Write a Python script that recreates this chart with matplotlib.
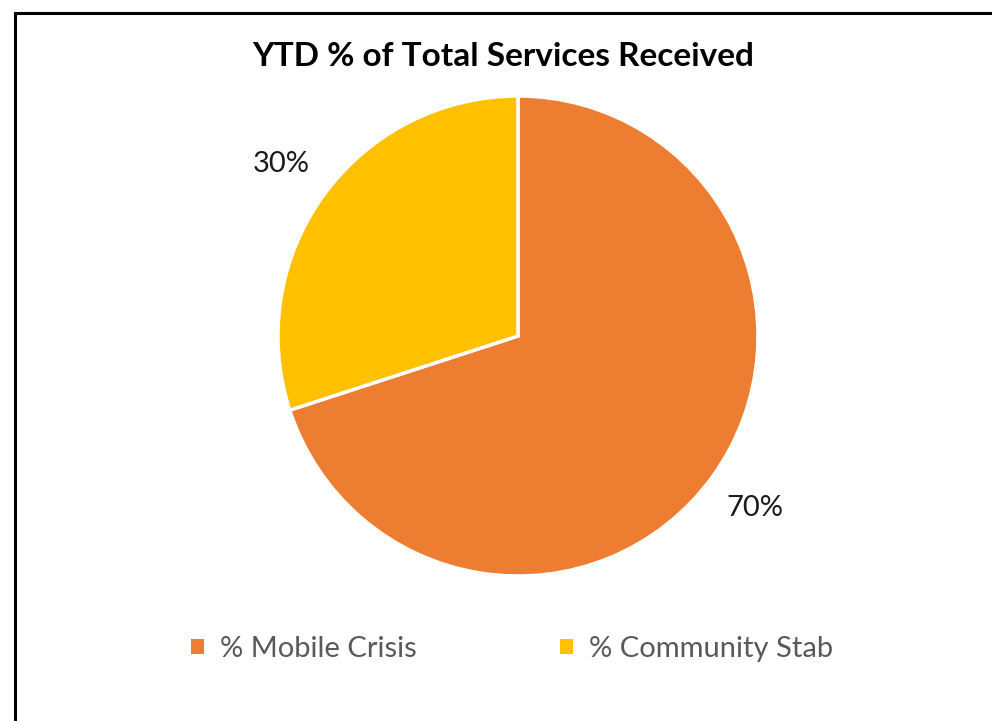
import matplotlib
matplotlib.use("Agg")
import matplotlib.pyplot as plt
from matplotlib.patches import Rectangle

categories = ["% Mobile Crisis", "% Community Stab"]
values = [70, 30]
colors = ["#ED7D31", "#FFC000"]
title = "YTD % of Total Services Received"

W, H = 992, 721
fig = plt.figure(figsize=(W / 100, H / 100), dpi=100)
plt.rcParams['font.family'] = ['Lato', 'DejaVu Sans']

cx, cy, r = 518, 336, 240
ax = fig.add_axes([(cx - r) / W, (H - cy - r) / H, 2 * r / W, 2 * r / H])
wedges, texts, autotexts = ax.pie(
    values, colors=colors, startangle=90, counterclock=False,
    autopct=lambda p: f"{p:.0f}%", pctdistance=1.22,
    wedgeprops=dict(edgecolor="white", linewidth=2.5),
    textprops=dict(fontsize=21, color="#1a1a1a"))
ax.set_xlim(-1, 1)
ax.set_ylim(-1, 1)
ax.set_aspect("equal")
ax.axis("off")

fig.text(503 / W, 1 - 57 / H, title, ha="center", va="center",
         fontsize=24, fontweight="bold", color="black")

leg = fig.legend(wedges, categories, loc="center",
                 bbox_to_anchor=(512 / W, 1 - 649 / H), ncol=2, frameon=False,
                 fontsize=21, handlelength=0.45, handleheight=0.45,
                 handletextpad=0.55, columnspacing=4.9)
for t in leg.get_texts():
    t.set_color("#595959")
for h in leg.legend_handles:
    h.set_edgecolor("none")

fig.patches.append(Rectangle((14.5 / W, -0.1), 1.2, 1.1 - 12.5 / H,
                             transform=fig.transFigure, fill=False,
                             edgecolor="black", linewidth=2.2))

fig.savefig("out.png", dpi=100)
